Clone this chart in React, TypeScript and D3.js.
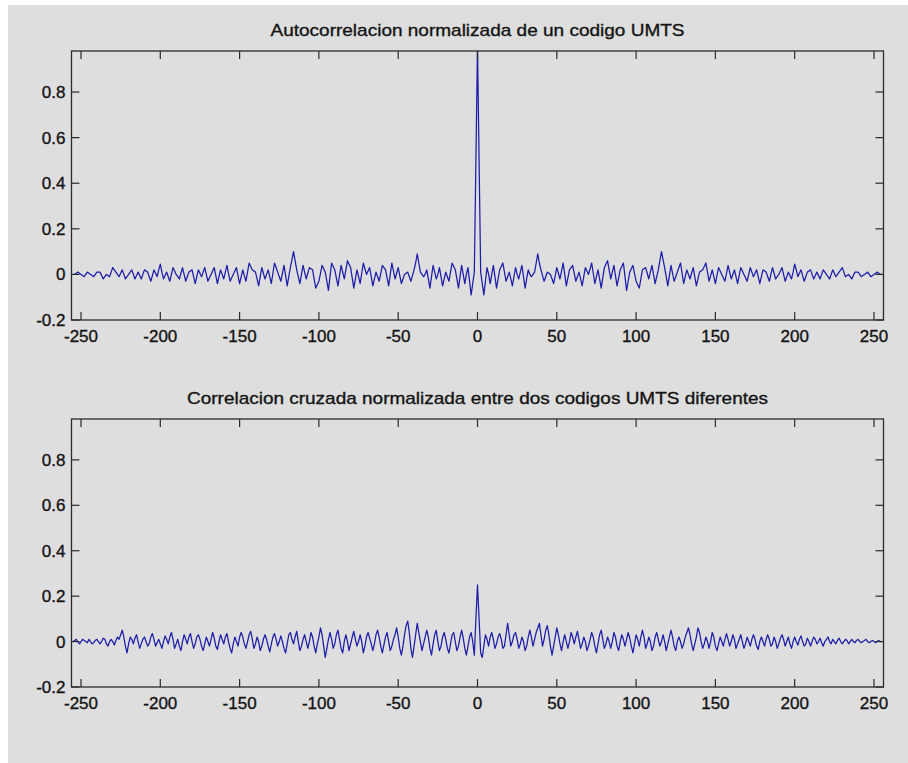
import React from "react";
import * as d3 from "d3";

// Autocorrelation, lags 0..255 (symmetric around lag 0)
const autoPositiveLags: number[] = [
  1, 0.5, 0.01, -0.04, -0.09, -0.03, 0.03, 0.0, -0.04, 0.0, 0.04, -0.01, -0.06, -0.02, 0.02, 0.035,
  0.05, 0.01, -0.03, -0.01, 0.01, -0.02, -0.05, -0.01, 0.03, 0.0, -0.02, 0.01, 0.04, -0.01, -0.06, -0.02,
  0.02, 0.0, -0.01, 0.0, 0.01, 0.05, 0.09, 0.05, 0.02, -0.005, -0.03, -0.01, 0.01, 0.005, 0.0, -0.02,
  -0.04, -0.005, 0.03, 0.005, -0.02, 0.015, 0.05, 0.0, -0.05, -0.015, 0.02, 0.03, 0.04, 0.005, -0.03, -0.01,
  0.01, -0.02, -0.05, -0.01, 0.03, 0.015, 0.0, 0.025, 0.05, 0.005, -0.04, -0.01, 0.02, -0.02, -0.06, -0.015,
  0.03, 0.045, 0.06, 0.02, -0.02, 0.01, 0.04, -0.005, -0.05, -0.015, 0.02, 0.035, 0.05, -0.01, -0.07, -0.03,
  0.01, 0.025, 0.04, 0.005, -0.03, -0.045, -0.06, -0.02, 0.02, 0.025, 0.03, 0.005, -0.02, 0.01, 0.04, 0.0,
  -0.04, -0.01, 0.02, 0.06, 0.1, 0.065, 0.03, -0.01, -0.05, -0.005, 0.04, 0.005, -0.03, -0.01, 0.01, 0.03,
  0.05, 0.005, -0.04, -0.01, 0.02, 0.0, -0.02, 0.005, 0.03, -0.01, -0.05, -0.02, 0.01, 0.015, 0.02, 0.035,
  0.05, 0.01, -0.03, -0.005, 0.02, -0.01, -0.04, -0.005, 0.03, 0.015, 0.0, -0.015, -0.03, 0.005, 0.04, 0.01,
  -0.02, 0.0, 0.02, -0.01, -0.04, -0.005, 0.03, 0.015, 0.0, -0.015, -0.03, 0.0, 0.03, 0.01, -0.01, 0.005,
  0.02, -0.01, -0.04, -0.01, 0.02, 0.015, 0.01, -0.01, -0.03, 0.0, 0.03, 0.005, -0.02, -0.01, 0.0, 0.015,
  0.03, 0.0, -0.03, -0.01, 0.01, -0.005, -0.02, 0.01, 0.045, 0.02, -0.01, 0.005, 0.02, -0.005, -0.03, -0.01,
  0.01, 0.015, 0.02, 0.0, -0.02, -0.005, 0.01, -0.005, -0.02, 0.0, 0.02, 0.01, 0.0, -0.01, -0.02, 0.0,
  0.02, 0.005, -0.01, 0.0, 0.01, 0.02, 0.03, 0.01, -0.01, -0.005, 0.0, -0.01, -0.02, -0.005, 0.01, 0.01,
  0.01, 0.0, -0.01, -0.005, 0.0, 0.005, 0.01, 0.0, -0.01, -0.005, 0.0, 0.005, 0.01, 0.005, 0.0, 0.0,
];

// Cross-correlation, lags -255..255
const crossValues: number[] = [
  0.0, 0.005, 0.01, 0.0, -0.01, 0.0, 0.01, 0.005, 0.0, -0.005, 0.01, 0.0, -0.01, -0.005, 0.005, 0.01,
  0.0, -0.01, 0.0, 0.015, 0.01, -0.01, -0.02, 0.0, 0.01, 0.0, -0.015, 0.005, 0.02, 0.01, 0.03, 0.05,
  0.02, -0.02, -0.05, -0.01, 0.02, 0.01, -0.01, 0.015, 0.03, 0.0, -0.03, -0.01, 0.01, 0.02, 0.0, -0.02,
  -0.01, 0.02, 0.035, 0.01, -0.02, -0.005, 0.01, -0.01, -0.03, 0.0, 0.025, 0.01, -0.01, 0.02, 0.04, 0.01,
  -0.03, -0.01, 0.01, -0.02, -0.04, 0.0, 0.03, 0.01, -0.01, 0.02, 0.035, 0.0, -0.03, -0.01, 0.02, 0.03,
  0.01, -0.02, -0.04, -0.01, 0.02, 0.0, -0.02, 0.01, 0.04, 0.015, -0.02, -0.035, 0.0, 0.03, 0.01, -0.01,
  0.02, 0.035, 0.0, -0.03, -0.05, -0.01, 0.02, 0.0, -0.02, 0.02, 0.04, 0.02, -0.01, -0.03, 0.0, 0.03,
  0.045, 0.01, -0.03, -0.01, 0.02, 0.0, -0.04, -0.02, 0.01, 0.03, 0.01, -0.02, -0.045, -0.01, 0.02, 0.035,
  0.01, -0.02, 0.0, 0.025, 0.0, -0.03, -0.05, -0.01, 0.03, 0.04, 0.01, -0.01, 0.02, 0.045, 0.0, -0.04,
  -0.02, 0.01, 0.03, 0.0, -0.03, 0.0, 0.04, 0.02, -0.02, -0.05, -0.01, 0.02, 0.06, 0.03, -0.02, -0.07,
  -0.03, 0.01, 0.04, 0.01, -0.03, -0.01, 0.03, 0.05, 0.01, -0.03, -0.05, 0.0, 0.03, 0.0, -0.04, -0.01,
  0.02, 0.045, 0.01, -0.02, 0.0, 0.03, 0.0, -0.05, -0.02, 0.02, 0.04, 0.015, -0.01, -0.04, -0.01, 0.03,
  0.05, 0.02, -0.02, -0.05, -0.015, 0.02, 0.04, 0.0, -0.04, -0.02, 0.01, 0.03, 0.06, 0.02, -0.03, -0.06,
  -0.02, 0.03, 0.07, 0.09, 0.04, -0.03, -0.07, -0.02, 0.03, 0.08, 0.04, 0.0, -0.04, -0.01, 0.02, 0.05,
  0.02, -0.03, -0.06, -0.01, 0.03, 0.05, 0.0, -0.04, -0.02, 0.02, 0.04, 0.01, -0.03, -0.05, -0.01, 0.03,
  0.04, 0.0, -0.04, -0.02, 0.02, 0.05, 0.015, -0.03, -0.06, -0.02, 0.02, 0.04, 0.0, -0.06, 0.1, 0.25,
  0.1, -0.05, -0.07, -0.02, 0.03, 0.01, -0.02, 0.02, 0.04, 0.01, -0.03, -0.01, 0.02, 0.035, 0.01, -0.03,
  -0.02, 0.03, 0.08, 0.03, -0.02, 0.0, 0.03, 0.04, 0.01, -0.03, -0.01, 0.02, 0.0, -0.04, -0.02, 0.02,
  0.05, 0.02, -0.02, 0.01, 0.04, 0.06, 0.08, 0.03, -0.02, 0.01, 0.05, 0.07, 0.03, -0.02, -0.06, -0.02,
  0.02, 0.06, 0.03, -0.01, -0.04, 0.0, 0.03, 0.0, -0.03, 0.0, 0.04, 0.02, -0.01, 0.02, 0.045, 0.01,
  -0.03, -0.01, 0.02, 0.0, -0.04, -0.02, 0.01, 0.04, 0.02, -0.02, -0.05, -0.01, 0.03, 0.05, 0.01, -0.03,
  -0.01, 0.02, 0.0, -0.03, 0.0, 0.04, 0.02, -0.02, -0.04, 0.0, 0.03, 0.01, -0.02, 0.01, 0.04, 0.015,
  -0.02, -0.05, -0.01, 0.03, 0.01, -0.02, 0.02, 0.05, 0.02, -0.03, -0.01, 0.02, 0.0, -0.04, -0.02, 0.02,
  0.04, 0.01, -0.02, 0.0, 0.03, 0.0, -0.04, -0.01, 0.02, 0.05, 0.02, -0.02, -0.04, 0.0, 0.02, 0.0,
  -0.03, -0.01, 0.02, 0.04, 0.06, 0.03, -0.01, -0.04, -0.01, 0.02, 0.06, 0.04, 0.0, -0.03, -0.01, 0.02,
  0.0, -0.03, 0.0, 0.04, 0.02, -0.02, -0.04, -0.01, 0.02, 0.0, -0.02, 0.01, 0.035, 0.01, -0.02, 0.0,
  0.03, 0.01, -0.03, -0.01, 0.01, 0.03, 0.0, -0.03, -0.01, 0.02, 0.0, -0.02, 0.01, 0.03, 0.01, -0.02,
  -0.035, 0.0, 0.02, 0.0, -0.02, 0.01, 0.03, 0.01, -0.02, -0.01, 0.02, 0.0, -0.03, -0.01, 0.015, 0.03,
  0.01, -0.02, 0.0, 0.02, -0.01, -0.03, 0.0, 0.02, 0.0, -0.015, 0.01, 0.025, 0.0, -0.02, -0.01, 0.015,
  0.0, -0.02, 0.0, 0.02, 0.01, -0.01, 0.0, 0.015, -0.005, -0.02, 0.0, 0.01, 0.02, 0.0, -0.01, 0.01,
  0.0, -0.01, 0.005, 0.015, 0.0, -0.01, 0.0, 0.01, 0.005, -0.01, 0.0, 0.01, 0.0, -0.005, 0.005, 0.01,
  0.0, -0.005, 0.0, 0.005, 0.01, 0.0, -0.005, 0.0, 0.005, 0.0, -0.005, 0.0, 0.005, 0.0, 0.0,
];

const xTicks: number[] = [-250, -200, -150, -100, -50, 0, 50, 100, 150, 200, 250];
const yTicks: number[] = [-0.2, 0, 0.2, 0.4, 0.6, 0.8];
const titles: string[] = [
  "Autocorrelacion normalizada de un codigo UMTS",
  "Correlacion cruzada normalizada entre dos codigos UMTS diferentes",
];
const titleWidths = [414, 581];

const W = 908;
const H = 763;
const FONT = "'Liberation Sans', Arial, sans-serif";

function buildAuto(): [number, number][] {
  const out: [number, number][] = [];
  for (let lag = -255; lag <= 255; lag++) {
    out.push([lag, autoPositiveLags[Math.abs(lag)]]);
  }
  return out;
}
function buildCross(): [number, number][] {
  return crossValues.map((v, i) => [i - 255, v] as [number, number]);
}

const textStyle = {
  fontFamily: FONT,
  fill: "#141414",
  stroke: "#141414",
  strokeWidth: 0.35,
};

const Panel: React.FC<{
  top: number;
  bottom: number;
  data: [number, number][];
  title: string;
  titleWidth: number;
  id: string;
}> = ({ top, bottom, data, title, titleWidth, id }) => {
  const left = 71.5;
  const right = 883.5;
  const x = d3.scaleLinear().domain([-256, 256]).range([left, right]);
  const y = d3.scaleLinear().domain([-0.2, 0.98]).range([bottom, top]);
  const line = d3
    .line<[number, number]>()
    .x((d) => x(d[0]))
    .y((d) => y(d[1]));
  const tl = 8;
  const axisColor = "#2a2a2a";
  return (
    <g>
      <defs>
        <clipPath id={id}>
          <rect x={left} y={top} width={right - left} height={bottom - top} />
        </clipPath>
      </defs>
      <path
        d={line(data) || ""}
        fill="none"
        stroke="#1c1caa"
        strokeWidth={1.25}
        strokeLinejoin="round"
        clipPath={`url(#${id})`}
      />
      <rect
        x={left}
        y={top}
        width={right - left}
        height={bottom - top}
        fill="none"
        stroke={axisColor}
        strokeWidth={1.3}
      />
      {xTicks.map((t) => (
        <g key={"x" + t}>
          <line x1={x(t)} x2={x(t)} y1={bottom} y2={bottom - tl} stroke={axisColor} strokeWidth={1.2} />
          <line x1={x(t)} x2={x(t)} y1={top} y2={top + tl} stroke={axisColor} strokeWidth={1.2} />
          <text x={x(t)} y={bottom + 22} textAnchor="middle" fontSize={17} style={textStyle}>
            {t}
          </text>
        </g>
      ))}
      {yTicks.map((t) => (
        <g key={"y" + t}>
          <line x1={left} x2={left + tl} y1={y(t)} y2={y(t)} stroke={axisColor} strokeWidth={1.2} />
          <line x1={right} x2={right - tl} y1={y(t)} y2={y(t)} stroke={axisColor} strokeWidth={1.2} />
          <text x={left - 6} y={y(t) + 6} textAnchor="end" fontSize={17} style={textStyle}>
            {Math.round(t * 10) / 10}
          </text>
        </g>
      ))}
      <text
        x={(left + right) / 2}
        y={top - 15}
        textAnchor="middle"
        fontSize={17}
        style={textStyle}
        textLength={titleWidth}
        lengthAdjust="spacingAndGlyphs"
      >
        {title}
      </text>
    </g>
  );
};

export default function App() {
  const auto = buildAuto();
  const cross = buildCross();
  return (
    <svg
      width={W}
      height={H}
      style={{ position: "absolute", left: 0, top: 0, display: "block" }}
    >
      <rect x={0} y={0} width={W} height={H} fill="#ffffff" />
      <rect x={8} y={5} width={W - 8} height={H - 5} fill="#dedede" />
      <Panel top={51} bottom={320} data={auto} title={titles[0]} titleWidth={titleWidths[0]} id="clipA" />
      <Panel top={419} bottom={687} data={cross} title={titles[1]} titleWidth={titleWidths[1]} id="clipB" />
    </svg>
  );
}
